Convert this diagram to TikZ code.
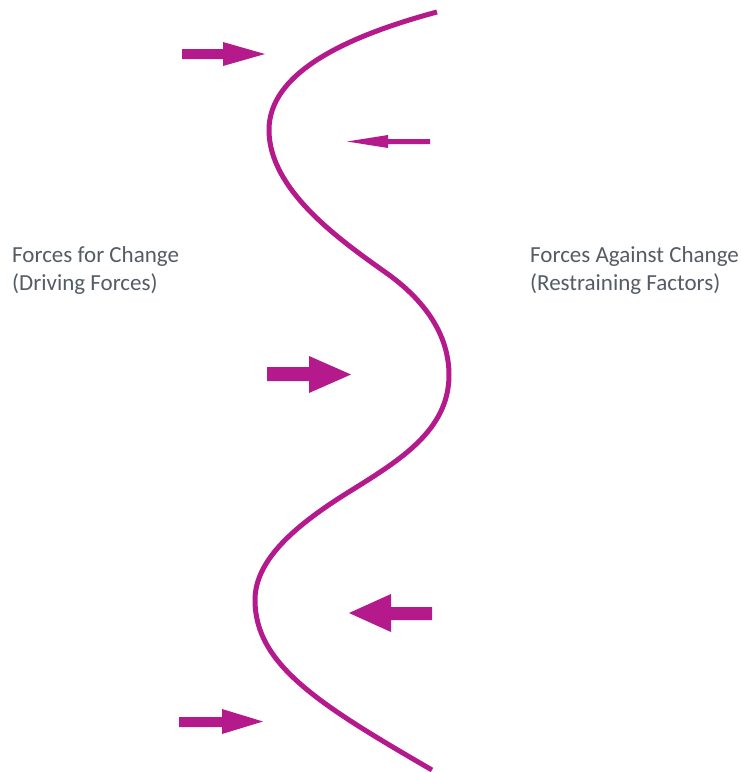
\documentclass[tikz,border=0pt]{standalone}
\usepackage{fontspec}
\setmainfont{Carlito}
\definecolor{plum}{RGB}{180,26,139}
\definecolor{labelgray}{RGB}{84,92,102}
\begin{document}
\begin{tikzpicture}[x=1pt,y=-1pt,
  wave/.style={draw=plum,line width=5pt,line cap=butt},
  blockarrow/.style={fill=plum,draw=none},
  sidelabel/.style={anchor=base west,align=left,inner sep=0pt,text=labelgray,
    font=\fontsize{23}{28}\selectfont}]
\useasboundingbox[fill=white] (0,0) rectangle (741,772);

% the boundary line between the two sets of forces
\draw[wave] (437,12) .. controls (340,38) and (269,75) .. (269,130)
  .. controls (269,190) and (340,240) .. (385,272)
  .. controls (425,300) and (449,335) .. (449,375)
  .. controls (449,430) and (400,460) .. (352,490)
  .. controls (295,525) and (255,560) .. (255,600)
  .. controls (255,665) and (320,705) .. (432,770);

% driving forces (pointing right)
\fill[blockarrow] (182,49) -- (223,49) -- (223,42) -- (265,54) -- (223,66) -- (223,59) -- (182,59) -- cycle;
\fill[blockarrow] (267,367) -- (309,367) -- (309,356) -- (351,374.5) -- (309,393) -- (309,381) -- (267,381) -- cycle;
\fill[blockarrow] (179,717) -- (222,717) -- (222,709) -- (263,721.5) -- (222,734) -- (222,727) -- (179,727) -- cycle;

% restraining forces (pointing left)
\fill[blockarrow] (430,139) -- (388,139) -- (388,135) -- (347,141.5) -- (388,148) -- (388,144) -- (430,144) -- cycle;
\fill[blockarrow] (432,607) -- (391,607) -- (391,594) -- (349,613) -- (391,632) -- (391,620) -- (432,620) -- cycle;

% labels (anchored at the baseline of their second line)
\node[sidelabel] (driving) at (12,290) {Forces for Change\\(Driving Forces)};
\node[sidelabel] (restraining) at (530,290) {Forces Against Change\\(Restraining Factors)};
\end{tikzpicture}
\end{document}
